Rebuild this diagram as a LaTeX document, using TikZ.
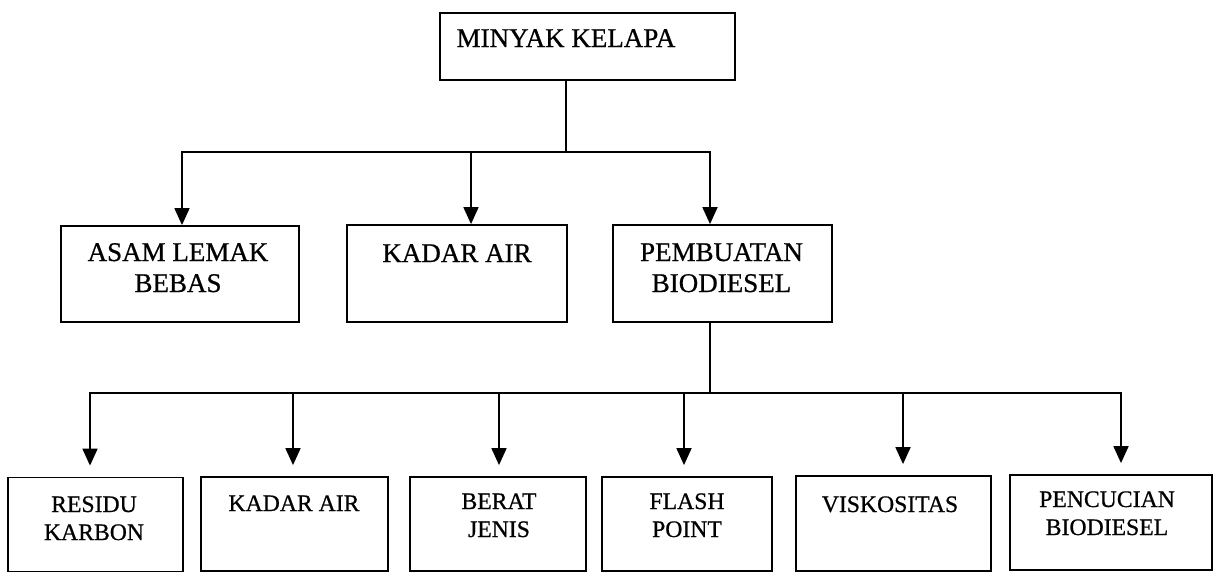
\documentclass[tikz,border=0pt]{standalone}
\usepackage{fontspec}
\setmainfont[FakeBold=0.7]{Liberation Serif}
\usetikzlibrary{arrows.meta}
\begin{document}
\begin{tikzpicture}[x=1pt,y=-1pt,
  box/.style={draw,line width=1.8pt,inner sep=0pt,rectangle},
  big/.style={font=\fontsize{27}{31}\selectfont,align=center,anchor=base,inner sep=0pt},
  small/.style={font=\fontsize{23.7}{28}\selectfont,align=center,anchor=base,inner sep=0pt},
  ln/.style={line width=1.8pt,line cap=rect},
  arr/.style={line width=1.8pt,-{Triangle[width=15pt,length=17pt]}}]
\useasboundingbox (0,0) rectangle (1224,573);
% boxes
\node[box,minimum width=295pt,minimum height=67pt] (top) at (587.5,46.5) {};
\node[box,minimum width=238pt,minimum height=96pt] (asam) at (180,274) {};
\node[box,minimum width=220pt,minimum height=97pt] (kadar) at (457,273.5) {};
\node[box,minimum width=219pt,minimum height=97pt] (pemb) at (722.5,273.5) {};
\node[box,minimum width=175pt,minimum height=94pt] (r1) at (95.5,524.5) {};
\node[box,minimum width=187pt,minimum height=94pt] (r2) at (294.5,524) {};
\node[box,minimum width=176pt,minimum height=94pt] (r3) at (498,524) {};
\node[box,minimum width=170pt,minimum height=94pt] (r4) at (687,524) {};
\node[box,minimum width=195pt,minimum height=95pt] (r5) at (893.5,523.5) {};
\node[box,minimum width=202pt,minimum height=95pt] (r6) at (1111,522.5) {};
% texts (base anchor = baseline of the last line)
\node[big] (ttop) at (566,47) {MINYAK KELAPA};
\node[big] (tasam) at (178,292) {ASAM LEMAK\\BEBAS};
\node[big] (tkadar) at (457,262) {KADAR AIR};
\node[big] (tpemb) at (721.5,292) {PEMBUATAN\\BIODIESEL};
\node[small] (t1) at (94,540) {RESIDU\\KARBON};
\node[small] (t2) at (294,511) {KADAR AIR};
\node[small] (t3) at (499,537) {BERAT\\JENIS};
\node[small] (t4) at (687,537) {FLASH\\POINT};
\node[small] (t5) at (890,512) {VISKOSITAS};
\node[small] (t6) at (1107,535) {PENCUCIAN\\BIODIESEL};
% first level connectors
\coordinate (j0) at (566,152);
\coordinate (jl) at (182,152);
\coordinate (jm) at (471,152);
\coordinate (jr) at (710,152);
\draw[ln] (top.south -| j0) -- (j0);
\draw[ln] (jl) -- (jr);
\draw[arr] (jl) -- (jl |- asam.north);
\draw[arr] (jm) -- (jm |- kadar.north);
\draw[arr] (jr) -- (jr |- pemb.north);
% second level connectors
\coordinate (k0) at (710,393);
\coordinate (k1) at (90,393);
\coordinate (k2) at (293,393);
\coordinate (k3) at (499,393);
\coordinate (k4) at (684,393);
\coordinate (k5) at (903,393);
\coordinate (k6) at (1121,393);
\draw[ln] (pemb.south -| k0) -- (k0);
\draw[ln] (k1) -- (k6);
\draw[arr,shorten >=11pt] (k1) -- (k1 |- r1.north);
\draw[arr,shorten >=11pt] (k2) -- (k2 |- r2.north);
\draw[arr,shorten >=11pt] (k3) -- (k3 |- r3.north);
\draw[arr,shorten >=11pt] (k4) -- (k4 |- r4.north);
\draw[arr,shorten >=11pt] (k5) -- (k5 |- r5.north);
\draw[arr,shorten >=11pt] (k6) -- (k6 |- r6.north);
\end{tikzpicture}
\end{document}
